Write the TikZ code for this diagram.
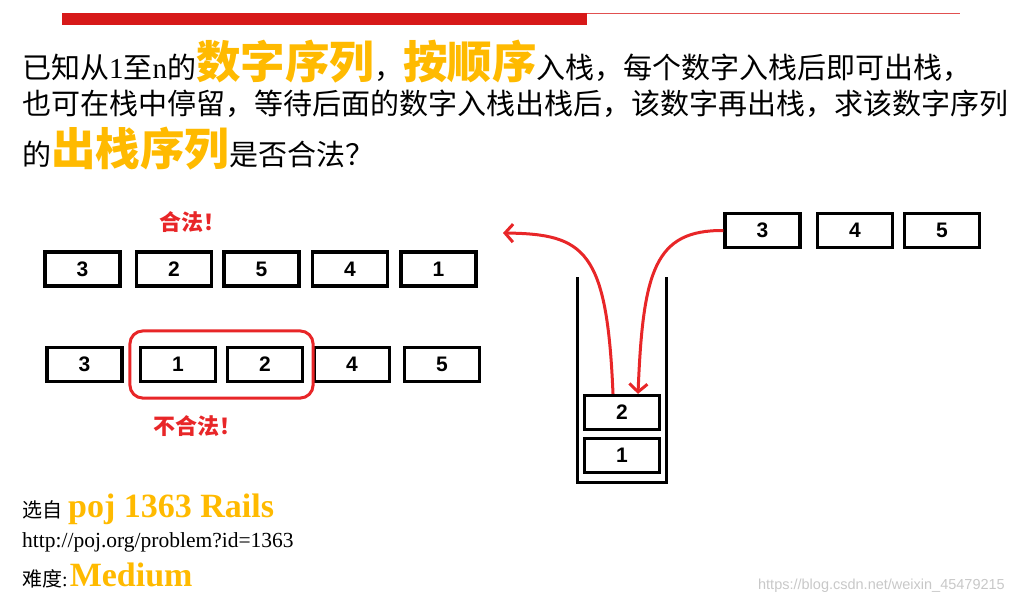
\documentclass[tikz,border=0pt]{standalone}
\usepackage{fontspec}
\setmainfont{Liberation Serif}
\newfontfamily\cjk{Noto Sans CJK SC}
\newfontfamily\numf{Liberation Sans}
\usetikzlibrary{arrows.meta,fit}
\definecolor{barred}{RGB}{215,25,25}
\definecolor{thinred}{RGB}{225,80,80}
\definecolor{linered}{RGB}{232,38,40}
\definecolor{gold}{RGB}{255,186,0}
\definecolor{wmgray}{RGB}{200,200,200}
\newcommand\bigorange[1]{{\color{gold}\bfseries\fontsize{44.5}{46}\selectfont #1}}
\begin{document}
\begin{tikzpicture}[x=1pt,y=-1pt,
 numbox/.style={draw=black,line width=3.2pt,minimum width=75pt,minimum height=34pt,inner sep=0pt,font=\numf\bfseries\fontsize{21}{21}\selectfont},
 redarrow/.style={draw=linered,line width=3pt,-{Straight Barb[length=8pt,width=18pt,line width=3pt]}},
 txt/.style={anchor=base west,inner sep=0pt,font=\cjk\fontsize{29}{30}\selectfont},
 redlabel/.style={inner sep=0pt,text=linered,font=\cjk\bfseries\fontsize{22}{24}\selectfont},
 stackline/.style={draw=black,line width=3pt,line join=miter}
]
\useasboundingbox (0,0) rectangle (1014,604);
% top bar
\fill[barred] (62,13) rectangle (587,25);
\draw[thinred,line width=1.2pt] (587,13.6) -- (960,13.6);
% heading text
\node[txt] (l1) at (22,79) {已知从{\rmfamily 1}至{\rmfamily n}的\bigorange{数字序列}，\bigorange{按顺序}入栈，每个数字入栈后即可出栈，};
\node[txt] (l2) at (22,115) {也可在栈中停留，等待后面的数字入栈出栈后，该数字再出栈，求该数字序列};
\node[txt] (l3) at (22,166) {的\bigorange{出栈序列}是否合法？};
% legal row
\node[redlabel] (ok) at (192,222) {合法！};
\node[numbox] (a1) at (82.5,269) {3};
\node[numbox] (a2) at (174,269) {2};
\node[numbox] (a3) at (261.5,269) {5};
\node[numbox] (a4) at (350,269) {4};
\node[numbox] (a5) at (438.5,269) {1};
% illegal row
\node[numbox] (b1) at (84.5,364.5) {3};
\node[numbox] (b2) at (178,364.5) {1};
\node[numbox] (b3) at (265,364.5) {2};
\node[numbox] (b4) at (352,364.5) {4};
\node[numbox] (b5) at (442,364.5) {5};
\node[draw=linered,line width=3pt,rounded corners=13pt,inner xsep=9pt,inner ysep=15pt,fit=(b2)(b3)] (bad) {};
\node[redlabel] (notok) at (197,426) {不合法！};
% input queue
\node[numbox] (q3) at (762.5,230.5) {3};
\node[numbox] (q4) at (855,230.5) {4};
\node[numbox] (q5) at (942,230.5) {5};
% stack
\draw[stackline] (577,277) -- (577,482) -- (666,482) -- (666,277);
\node[numbox] (s2) at (622,412.5) {2};
\node[numbox] (s1) at (622,455.5) {1};
% arrows
\coordinate (outtip) at (503,233);
\draw[redarrow] ([xshift=-9pt]s2.north) .. controls (607,250) and (585,234) .. (outtip);
\draw[redarrow] (q3.west) .. controls (655,230) and (643,270) .. ([xshift=16pt]s2.north);
% bottom text
\node[anchor=base west,inner sep=0pt] (src) at (22,517) {{\cjk\fontsize{20}{22}\selectfont 选自}\hspace{6pt}{\color{gold}\bfseries\fontsize{34}{35}\selectfont poj 1363 Rails}};
\node[anchor=base west,inner sep=0pt,font=\fontsize{21.5}{22}\selectfont] (url) at (22,547) {http://poj.org/problem?id=1363};
\node[anchor=base west,inner sep=0pt] (diff) at (22,586) {{\cjk\fontsize{20}{22}\selectfont 难度}{\fontsize{20}{22}\selectfont :}\hspace{2pt}{\color{gold}\bfseries\fontsize{34}{35}\selectfont Medium}};
\node[anchor=base east,inner sep=0pt,text=wmgray,font=\numf\fontsize{14.5}{15}\selectfont] (wm) at (1005,589) {https://blog.csdn.net/weixin\_45479215};
\end{tikzpicture}
\end{document}
